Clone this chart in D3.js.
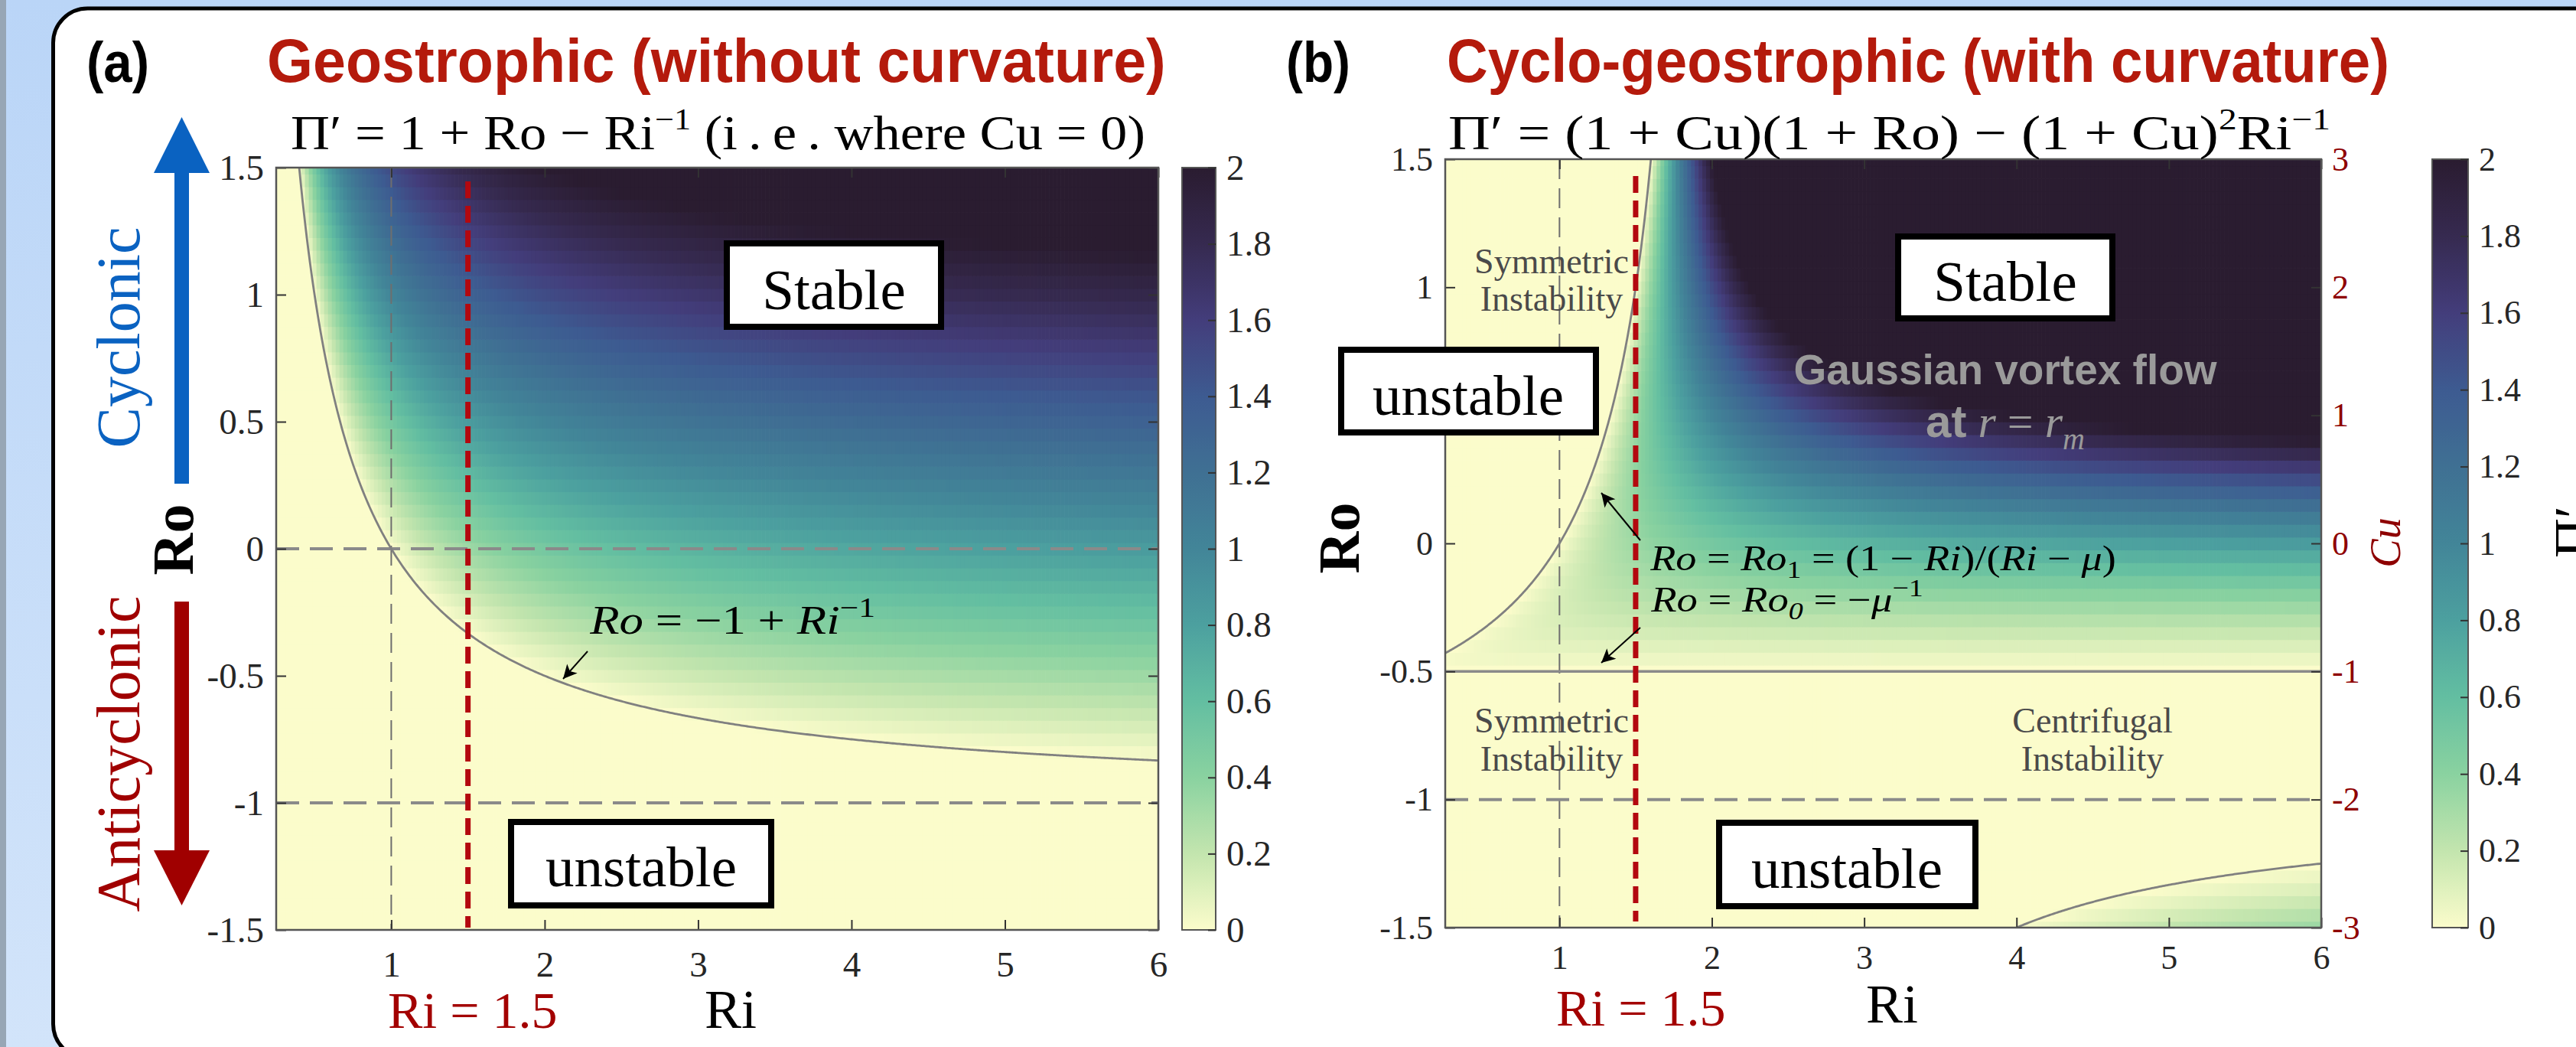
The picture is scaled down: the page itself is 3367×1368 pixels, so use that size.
<!DOCTYPE html>
<html><head><meta charset="utf-8"><title>Stability parameter</title>
<script src="https://cdn.jsdelivr.net/npm/d3@7/dist/d3.min.js"></script>
<style>html,body{margin:0;padding:0;background:#fff}svg{display:block}</style>
</head><body>
<svg id="chart" width="3367" height="1368" xmlns="http://www.w3.org/2000/svg"></svg>
<script>
const SERIF='"Liberation Serif","Times New Roman",Times,serif';
const SANS='"Liberation Sans",Arial,Helvetica,sans-serif';

// ---------------- data ----------------
const riTicks=[1,2,3,4,5,6];
const roTicks=[-1.5,-1,-0.5,0,0.5,1,1.5];
const roTickLabelsA=["-1.5","-1","-0.5","0","0.5","1","1.5"];
const roTickLabelsB=["-1.5","-1","-0.5","0","","1","1.5"];   // 0.5 hidden behind the "unstable" box
const cuTicks=[-3,-2,-1,0,1,2,3];
const cuTickLabels=["-3","-2","-1","0","1","2","3"];
const cbTicks=[0,0.2,0.4,0.6,0.8,1,1.2,1.4,1.6,1.8,2];
const cbTickLabels=["0","0.2","0.4","0.6","0.8","1","1.2","1.4","1.6","1.8","2"];
const cbColors=["#fbfccb","#c3e5ae","#8ad2a0","#63bea1","#4ca09f","#428598","#3f7093","#3d5b91","#433d7b","#362a50","#2a1c30"];
const riDomain=[0.25,6];
const roDomain=[-1.5,1.5];
const cuDomain=[-3,3];
const roStep=0.05, riStep=0.025;   // grid of the plotted field
const mu=2;                        // Ro0 = -1/mu = -0.5
const cuPerRo=2;                   // Cu = 2 Ro at r = r_m (right axis)
const riMark=1.5;
const roDashA=[0,-1], roDashB=[-1];

// field definitions shown in the panel titles
const piA=(ri,ro)=>1+ro-1/ri;
const piB=(ri,ro)=>{const cu=cuPerRo*ro;return (1+cu)*(1+ro)-(1+cu)*(1+cu)/ri;};
const curveA=ri=>-1+1/ri;
const curveB=ri=>(1-ri)/(ri-mu);

// ---------------- layout ----------------
const PA={x0:361,x1:1514,y0:219,y1:1215,cbx0:1545,cbx1:1589};
const PB={x0:1889,x1:3034,y0:208,y1:1212,cbx0:3179,cbx1:3226};

const svg=d3.select('#chart');
const defs=svg.append('defs');
const color=d3.scaleLinear().domain(cbTicks).range(cbColors).interpolate(d3.interpolateRgb).clamp(true);

// background
const bg=defs.append('linearGradient').attr('id','bgG').attr('x1',0).attr('y1',0).attr('x2',0).attr('y2',1);
bg.append('stop').attr('offset','0').attr('stop-color','#bad5f7');
bg.append('stop').attr('offset','1').attr('stop-color','#d2e4fa');
svg.append('rect').attr('width',3367).attr('height',1368).attr('fill','url(#bgG)');
svg.append('rect').attr('width',8).attr('height',1368).attr('fill','#97a6b5');
svg.append('rect').attr('x',69.5).attr('y',11).attr('width',3400).attr('height',1372).attr('rx',45).attr('ry',45)
  .attr('fill','#fff').attr('stroke','#000').attr('stroke-width',5);

// arrow marker
const mk=defs.append('marker').attr('id','ah').attr('viewBox','0 0 10 10').attr('refX',10).attr('refY',5)
  .attr('markerWidth',28).attr('markerHeight',18).attr('markerUnits','userSpaceOnUse').attr('orient','auto');
mk.append('path').attr('d','M0,0 L10,5 L0,10 L2.5,5 Z').attr('fill','#000');

function fitW(sel,x0,w){const bb=sel.node().getBBox();const s=w/bb.width;
  sel.attr('transform',`translate(${x0},0) scale(${s},1) translate(${-bb.x},0)`);}

function addT(parent,x,y,parts,opt){
  const t=parent.append('text').attr('x',x).attr('y',y)
    .attr('font-family',opt.family||SERIF).attr('font-size',opt.size).attr('fill',opt.fill||'#000')
    .attr('text-anchor',opt.anchor||'start');
  if(opt.weight) t.attr('font-weight',opt.weight);
  parts.forEach(p=>{
    if(typeof p==='string'){t.append('tspan').text(p);return;}
    const s=t.append('tspan').text(p.t);
    if(p.i) s.attr('font-style','italic');
    if(p.s) s.attr('font-size',p.s);
    if(p.dy) s.attr('dy',p.dy);
    if(p.f) s.attr('font-family',p.f);
    if(p.w) s.attr('font-weight',p.w);
  });
  return t;
}

function panel(P,field,id){
  const x=d3.scaleLinear().domain(riDomain).range([P.x0,P.x1]);
  const y=d3.scaleLinear().domain(roDomain).range([P.y1,P.y0]);
  defs.append('clipPath').attr('id','clip'+id).append('rect')
    .attr('x',P.x0).attr('y',P.y0).attr('width',P.x1-P.x0).attr('height',P.y1-P.y0);
  const g=svg.append('g');
  const heat=g.append('g').attr('clip-path',`url(#clip${id})`);
  const rows=d3.range(roDomain[0],roDomain[1]+1e-9,roStep);
  const cols=d3.range(riDomain[0],riDomain[1]+1e-9,riStep);
  const cells=[];
  rows.forEach(ro=>cols.forEach(ri=>cells.push({ri,ro,v:field(ri,ro)})));
  const cw=x(riStep)-x(0), ch=y(0)-y(roStep);
  heat.selectAll('rect').data(cells).join('rect')
    .attr('x',d=>x(d.ri-riStep/2)).attr('y',d=>y(d.ro+roStep/2))
    .attr('width',cw+0.7).attr('height',ch+0.7).attr('fill',d=>color(d.v));
  return {x,y,g,heat};
}

function axes(P,S,opt){
  const {x,y,g}=S;
  const st=sel=>{sel.select('.domain').remove();
    sel.attr('font-family',SERIF).attr('font-size',opt.fs).attr('color','#262626');
    sel.selectAll('.tick line').attr('stroke','#333').attr('stroke-width',2);};
  g.append('g').attr('transform',`translate(${P.x0},0)`)
    .call(d3.axisLeft(y).tickValues(roTicks).tickFormat((d,i)=>opt.roLabels[i]).tickSize(-13).tickPadding(16)).call(st);
  g.append('g').attr('transform',`translate(0,${P.y1})`)
    .call(d3.axisBottom(x).tickValues(riTicks).tickFormat(d3.format('d')).tickSize(-13).tickPadding(opt.xpad)).call(st);
  g.append('g').attr('transform',`translate(0,${P.y0})`)
    .call(d3.axisTop(x).tickValues(riTicks).tickFormat('').tickSize(-13)).call(st);
  if(opt.cu){
    const yc=d3.scaleLinear().domain(cuDomain).range([P.y1,P.y0]);
    g.append('g').attr('transform',`translate(${P.x1},0)`)
      .call(d3.axisRight(yc).tickValues(cuTicks).tickFormat((d,i)=>cuTickLabels[i]).tickSize(-13).tickPadding(14)).call(st)
      .attr('color','#8e0000');
  } else {
    g.append('g').attr('transform',`translate(${P.x1},0)`)
      .call(d3.axisRight(y).tickValues(roTicks).tickFormat('').tickSize(-13)).call(st);
  }
  g.append('rect').attr('x',P.x0).attr('y',P.y0).attr('width',P.x1-P.x0).attr('height',P.y1-P.y0)
    .attr('fill','none').attr('stroke','#555').attr('stroke-width',2.5);
  // colorbar
  const cb=d3.scaleLinear().domain([cbTicks[0],cbTicks[cbTicks.length-1]]).range([P.y1,P.y0]);
  const gid='cbg'+opt.id;
  const lg=defs.append('linearGradient').attr('id',gid).attr('x1',0).attr('y1',1).attr('x2',0).attr('y2',0);
  d3.range(0,2.0001,0.05).forEach(v=>lg.append('stop').attr('offset',v/2).attr('stop-color',color(v)));
  g.append('rect').attr('x',P.cbx0).attr('y',P.y0).attr('width',P.cbx1-P.cbx0).attr('height',P.y1-P.y0)
    .attr('fill',`url(#${gid})`).attr('stroke','#555').attr('stroke-width',2);
  g.append('g').attr('transform',`translate(${P.cbx1},0)`)
    .call(d3.axisRight(cb).tickValues(cbTicks).tickFormat((d,i)=>cbTickLabels[i]).tickSize(-10).tickPadding(14)).call(st);
}

function vline(S,P,ri,opt){
  S.g.append('line').attr('x1',S.x(ri)).attr('x2',S.x(ri)).attr('y1',opt.ya??P.y0).attr('y2',opt.yb??P.y1)
    .attr('stroke',opt.c).attr('stroke-width',opt.w).attr('stroke-dasharray',opt.d||null);
}
function hline(S,P,ro,opt){
  S.g.append('line').attr('x1',P.x0).attr('x2',P.x1).attr('y1',S.y(ro)).attr('y2',S.y(ro))
    .attr('stroke',opt.c).attr('stroke-width',opt.w).attr('stroke-dasharray',opt.d||null);
}
function curve(S,id,ris,f){
  const line=d3.line().x(d=>S.x(d)).y(d=>S.y(f(d)));
  S.g.append('path').attr('clip-path',`url(#clip${id})`).attr('d',line(ris))
    .attr('fill','none').attr('stroke','#808080').attr('stroke-width',2.8);
}
function box(g,x,y,w,h,label,cx,base){
  g.append('rect').attr('x',x).attr('y',y).attr('width',w).attr('height',h)
    .attr('fill','#fff').attr('stroke','#000').attr('stroke-width',8);
  addT(g,cx,base,[label],{size:75,anchor:'middle'});
}
function arrow(g,x1,y1,x2,y2){
  g.append('line').attr('x1',x1).attr('y1',y1).attr('x2',x2).attr('y2',y2)
    .attr('stroke','#000').attr('stroke-width',2).attr('marker-end','url(#ah)');
}

// ================= Panel (a) =================
const SA=panel(PA,piA,'A');
vline(SA,PA,1,{c:'#6e6e6e',w:2,d:'26,12'});
roDashA.forEach(r=>hline(SA,PA,r,{c:'#8a8a8a',w:4,d:'30,14'}));
curve(SA,'A',d3.range(0.39,6.0001,0.01),curveA);
vline(SA,PA,riMark,{c:'#b3080f',w:7,d:'22,10',ya:PA.y0+18,yb:PA.y1-3});
axes(PA,SA,{xpad:28,id:'A',fs:47,roLabels:roTickLabelsA});

// ================= Panel (b) =================
const SB=panel(PB,piB,'B');
vline(SB,PB,1,{c:'#6e6e6e',w:2,d:'26,12'});
roDashB.forEach(r=>hline(SB,PB,r,{c:'#8a8a8a',w:4,d:'30,14'}));
hline(SB,PB,-1/mu,{c:'#8a8a8a',w:3.5});
curve(SB,'B',d3.range(0.25,1.6201,0.005),curveB);
curve(SB,'B',d3.range(3.98,6.0001,0.01),curveB);
vline(SB,PB,riMark,{c:'#b3080f',w:7,d:'22,10',ya:PB.y0+22,yb:PB.y1-8});
axes(PB,SB,{xpad:23,id:'B',cu:true,fs:44,roLabels:roTickLabelsB});

const T=svg.append('g');
// ---- titles ----
fitW(addT(T,113,107,['(a)'],{family:SANS,size:74,weight:'bold'}),113,82);
fitW(addT(T,349,107,['Geostrophic (without curvature)'],{family:SANS,size:80,weight:'bold',fill:'#b41a0c'}),349,1175);
fitW(addT(T,1681,107,['(b)'],{family:SANS,size:74,weight:'bold'}),1681,84);
fitW(addT(T,1891,107,['Cyclo-geostrophic (with curvature)'],{family:SANS,size:80,weight:'bold',fill:'#b41a0c'}),1891,1232);

fitW(addT(T,380,195,['Π′ = 1 + Ro − Ri',{t:'−1',s:40,dy:-26},{t:' (i\u2009.\u2009e\u2009.  where Cu = 0)',dy:26}],{size:64}),380,1117);
fitW(addT(T,1893,195,['Π′ = (1 + Cu)(1 + Ro) − (1 + Cu)',{t:'2',s:40,dy:-26},{t:'Ri',dy:26},{t:'−1',s:40,dy:-26}],{size:64}),1893,1153);

// ---- left arrows ----
T.append('rect').attr('x',228).attr('y',224).attr('width',19).attr('height',408).attr('fill','#0a62c1');
T.append('path').attr('d','M201,226 L274,226 L237.5,153 Z').attr('fill','#0a62c1');
T.append('rect').attr('x',228).attr('y',786).attr('width',19).attr('height',327).attr('fill','#a00000');
T.append('path').attr('d','M201,1111 L274,1111 L237.5,1183 Z').attr('fill','#a00000');
addT(T,0,0,['Cyclonic'],{size:80,anchor:'middle',fill:'#0a62c1'}).attr('transform','translate(182,441) rotate(-90)');
addT(T,0,0,['Anticyclonic'],{size:80,anchor:'middle',fill:'#a00000'}).attr('transform','translate(182,985) rotate(-90)');

// ---- axis labels ----
addT(T,0,0,['Ro'],{size:76,anchor:'middle',weight:'bold'}).attr('transform','translate(252,705) rotate(-90)');
addT(T,0,0,['Ro'],{size:76,anchor:'middle',weight:'bold'}).attr('transform','translate(1776,703) rotate(-90)');
addT(T,955,1343,['Ri'],{size:72,anchor:'middle'});
addT(T,2473,1336,['Ri'],{size:72,anchor:'middle'});
addT(T,507,1343,['Ri = 1.5'],{size:68,fill:'#a30000'});
addT(T,2034,1340,['Ri = 1.5'],{size:68,fill:'#a30000'});
addT(T,0,0,[{t:'Cu',i:true}],{size:56,anchor:'middle',fill:'#8e0000'}).attr('transform','translate(3137,709) rotate(-90)');
addT(T,0,0,['Π′'],{size:72,anchor:'middle'}).attr('transform','translate(3388,695) rotate(-90)');

// ---- annotations (a) ----
fitW(addT(T,770,828,[{t:'Ro',i:true},' = −1 + ',{t:'Ri',i:true},{t:'−1',s:36,dy:-22}],{size:52}),770,374);
arrow(T,768,851,736,887);
box(T,950,318,280,109,'Stable',1090,404);
box(T,668,1074,340,109,'unstable',838,1158);

// ---- annotations (b) ----
addT(T,2621,502,['Gaussian vortex flow'],{family:SANS,size:55,weight:'bold',fill:'#9a9a9a',anchor:'middle'});
addT(T,2621,571,[{t:'at',f:SANS,w:'bold'},' ',{t:'r',i:true},' = ',{t:'r',i:true},{t:'m',i:true,s:40,dy:16}],{size:60,fill:'#9a9a9a',anchor:'middle'});
[['Symmetric',357],['Instability',406],['Symmetric',957],['Instability',1007]].forEach(d=>
  addT(T,2028,d[1],[d[0]],{size:46,anchor:'middle',fill:'#4a4a4a'}));
[['Centrifugal',957],['Instability',1007]].forEach(d=>
  addT(T,2735,d[1],[d[0]],{size:46,anchor:'middle',fill:'#4a4a4a'}));
fitW(addT(T,2156,745,[{t:'Ro',i:true},' = ',{t:'Ro',i:true},{t:'1',s:32,dy:10},{t:' = (1 − ',dy:-10},{t:'Ri',i:true},')/(',{t:'Ri',i:true},' − ',{t:'μ',i:true},')'],{size:46}),2156,610);
fitW(addT(T,2157,799,[{t:'Ro',i:true},' = ',{t:'Ro',i:true},{t:'0',i:true,s:32,dy:10},{t:' = −',dy:-10},{t:'μ',i:true},{t:'−1',s:32,dy:-20}],{size:46}),2157,357);
arrow(T,2144,706,2093,644);
arrow(T,2144,820,2093,866);
box(T,2481,309,280,107,'Stable',2621,393);
box(T,1753,457,333,108,'unstable',1919,542);
box(T,2247,1075,335,109,'unstable',2414,1160);
</script>
</body></html>
